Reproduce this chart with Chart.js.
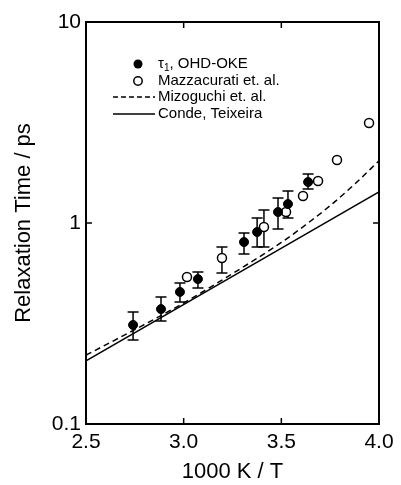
<!DOCTYPE html>
<html>
<head>
<meta charset="utf-8">
<script src="https://cdn.jsdelivr.net/npm/chart.js@4/dist/chart.umd.min.js"></script>
<style>
  html, body { margin: 0; padding: 0; background: #fff; }
  #wrap { width: 401px; height: 485px; }
</style>
</head>
<body>
<div id="wrap"><canvas id="chart" width="401" height="485"></canvas></div>
<script>
// OHD-OKE (filled circles) with error bars
const okeX    = [2.741, 2.884, 2.981, 3.073, 3.309, 3.376, 3.483, 3.534, 3.637];
const okeY    = [0.311, 0.373, 0.454, 0.526, 0.804, 0.902, 1.134, 1.243, 1.599];
const okeLow  = [0.262, 0.325, 0.405, 0.475, 0.701, 0.760, 0.934, 1.059, 1.476];
const okeHigh = [0.361, 0.428, 0.503, 0.571, 0.892, 1.059, 1.331, 1.443, 1.752];

// Mazzacurati et. al. (open circles); null = no error bar
const mazX    = [3.017, 3.196, 3.411, 3.524, 3.611, 3.688, 3.785, 3.949];
const mazY    = [0.539, 0.670, 0.955, 1.134, 1.363, 1.618, 2.058, 3.143];
const mazLow  = [null, 0.564, 0.760, null, null, null, null, null];
const mazHigh = [null, 0.760, 1.161, null, null, null, null, null];

// Mizoguchi et. al. (dashed curve)
const mizX = [2.5, 2.75, 3.0, 3.25, 3.5, 3.625, 3.75, 3.875, 4.0];
const mizY = [0.220, 0.295, 0.400, 0.560, 0.800, 0.980, 1.220, 1.560, 2.040];

// Conde, Teixeira (solid line)
const condeX = [2.5, 3.25, 4.0];
const condeY = [0.206, 0.543, 1.430];

const xTicks = [2.5, 3.0, 3.5, 4.0];
const yTicks = [0.1, 1, 10];

const FONT = '"Liberation Sans", Arial, sans-serif';
const pts = (xs, ys) => xs.map((x, i) => ({ x: x, y: ys[i] }));

const frame = {
  id: 'frame',
  beforeDatasetsDraw(chart) {
    const { ctx, scales: { x, y } } = chart;
    ctx.save();
    ctx.strokeStyle = '#000';
    ctx.lineWidth = 1.5;
    const bars = [[okeX, okeLow, okeHigh], [mazX, mazLow, mazHigh]];
    bars.forEach(([xs, lo, hi]) => {
      xs.forEach((v, i) => {
        if (lo[i] == null) return;
        const px = x.getPixelForValue(v);
        const p1 = y.getPixelForValue(lo[i]);
        const p2 = y.getPixelForValue(hi[i]);
        ctx.beginPath();
        ctx.moveTo(px, p1); ctx.lineTo(px, p2);
        ctx.moveTo(px - 5.5, p1); ctx.lineTo(px + 5.5, p1);
        ctx.moveTo(px - 5.5, p2); ctx.lineTo(px + 5.5, p2);
        ctx.stroke();
      });
    });
    ctx.restore();
  },
  afterDraw(chart) {
    const { ctx, chartArea: a, scales: { x, y } } = chart;
    ctx.save();
    ctx.strokeStyle = '#000';
    ctx.lineWidth = 2;
    ctx.strokeRect(a.left, a.top, a.right - a.left, a.bottom - a.top);
    ctx.lineWidth = 1.5;
    ctx.beginPath();
    [3.0, 3.5].forEach(v => {
      const px = x.getPixelForValue(v);
      ctx.moveTo(px, a.bottom); ctx.lineTo(px, a.bottom - 6);
      ctx.moveTo(px, a.top); ctx.lineTo(px, a.top + 6);
    });
    const py = y.getPixelForValue(1);
    ctx.moveTo(a.left, py); ctx.lineTo(a.left + 6, py);
    ctx.moveTo(a.right, py); ctx.lineTo(a.right - 6, py);
    ctx.stroke();

    // legend
    const lx = 138, tx = 158;
    const rows = [64, 81, 97, 114];
    ctx.fillStyle = '#000';
    ctx.font = '15px ' + FONT;
    ctx.textBaseline = 'middle';

    ctx.beginPath();
    ctx.arc(lx, rows[0], 4.5, 0, Math.PI * 2);
    ctx.fill();
    ctx.fillText('τ', tx, rows[0]);
    const tw = ctx.measureText('τ').width;
    ctx.font = '10px ' + FONT;
    ctx.fillText('1', tx + tw, rows[0] + 4);
    const sw = ctx.measureText('1').width;
    ctx.font = '15px ' + FONT;
    ctx.fillText(', OHD-OKE', tx + tw + sw, rows[0]);

    ctx.beginPath();
    ctx.arc(lx, rows[1], 4.2, 0, Math.PI * 2);
    ctx.fillStyle = '#fff';
    ctx.fill();
    ctx.lineWidth = 1.5;
    ctx.stroke();
    ctx.fillStyle = '#000';
    ctx.fillText('Mazzacurati et. al.', tx, rows[1]);

    ctx.beginPath();
    ctx.setLineDash([5, 3]);
    ctx.moveTo(113, rows[2]); ctx.lineTo(155, rows[2]);
    ctx.stroke();
    ctx.setLineDash([]);
    ctx.fillText('Mizoguchi et. al.', tx, rows[2]);

    ctx.beginPath();
    ctx.moveTo(113, rows[3]); ctx.lineTo(155, rows[3]);
    ctx.stroke();
    ctx.fillText('Conde, Teixeira', tx, rows[3]);
    ctx.restore();
  }
};

new Chart(document.getElementById('chart'), {
  type: 'scatter',
  data: {
    datasets: [
      { label: 'OHD-OKE', data: pts(okeX, okeY), pointRadius: 4.5, pointBackgroundColor: '#000',
        pointBorderColor: '#000', pointBorderWidth: 1, showLine: false },
      { label: 'Mazzacurati et. al.', data: pts(mazX, mazY), pointRadius: 4.5, pointBackgroundColor: '#fff',
        pointBorderColor: '#000', pointBorderWidth: 1.5, showLine: false },
      { label: 'Mizoguchi et. al.', data: pts(mizX, mizY), showLine: true, pointRadius: 0,
        borderColor: '#000', borderWidth: 1.5, borderDash: [6, 4], cubicInterpolationMode: 'monotone' },
      { label: 'Conde, Teixeira', data: pts(condeX, condeY), showLine: true, pointRadius: 0,
        borderColor: '#000', borderWidth: 1.5 }
    ]
  },
  options: {
    responsive: false,
    animation: false,
    layout: { padding: { top: 22, right: 22, left: 0, bottom: 0 } },
    plugins: { legend: { display: false }, tooltip: { enabled: false } },
    scales: {
      x: {
        type: 'linear', min: 2.5, max: 4.0,
        afterBuildTicks: s => { s.ticks = xTicks.map(v => ({ value: v })); },
        afterFit: s => { s.height = 61; },
        grid: { display: false, drawTicks: false },
        border: { display: false },
        ticks: { color: '#000', padding: 6, font: { family: FONT, size: 21 }, maxRotation: 0,
                 callback: v => Number(v).toFixed(1) },
        title: { display: true, text: '1000 K / T', color: '#000',
                 font: { family: FONT, size: 22 }, padding: { top: 0, bottom: 0 } }
      },
      y: {
        type: 'logarithmic', min: 0.1, max: 10,
        afterBuildTicks: s => { s.ticks = yTicks.map(v => ({ value: v })); },
        afterFit: s => { s.width = 86; },
        grid: { display: false, drawTicks: false },
        border: { display: false },
        ticks: { color: '#000', padding: 5, font: { family: FONT, size: 21 },
                 callback: v => String(v) },
        title: { display: true, text: 'Relaxation Time / ps', color: '#000',
                 font: { family: FONT, size: 22 }, padding: { top: 11, bottom: 0 } }
      }
    }
  },
  plugins: [frame]
});
</script>
</body>
</html>
